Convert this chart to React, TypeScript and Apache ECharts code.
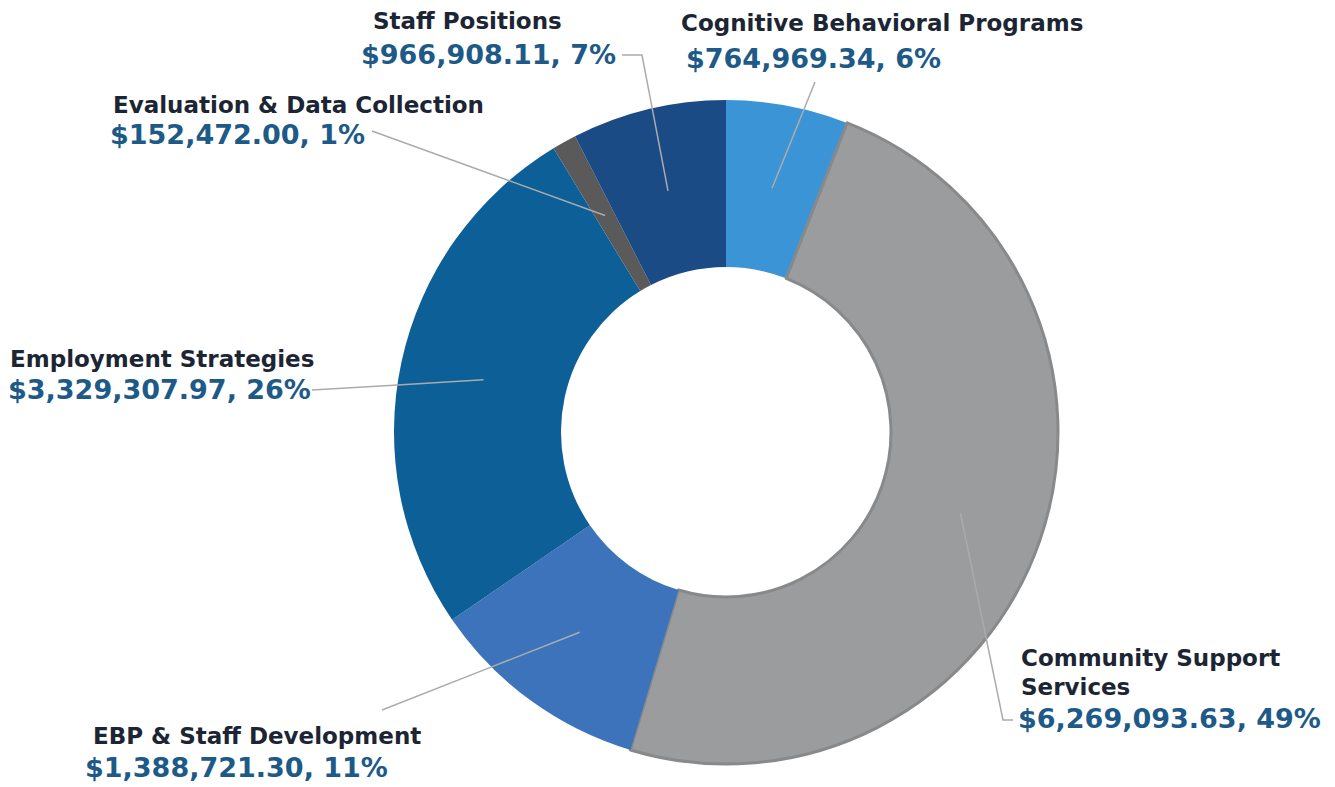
import React, { useEffect, useRef } from "react";
import * as echarts from "echarts";

const categories = [
  "Cognitive Behavioral Programs",
  "Community Support Services",
  "EBP & Staff Development",
  "Employment Strategies",
  "Evaluation & Data Collection",
  "Staff Positions",
];
const displayNames = [
  "Cognitive Behavioral Programs",
  "Community Support\nServices",
  "EBP & Staff Development",
  "Employment Strategies",
  "Evaluation & Data Collection",
  "Staff Positions",
];
const values = [764969.34, 6269093.63, 1388721.3, 3329307.97, 152472.0, 966908.11];
const percents = [6, 49, 11, 26, 1, 7];
const colors = ["#3b94d6", "#9a9c9e", "#3c73ba", "#0c5f97", "#5a5a5a", "#1b4b85"];

// layout (not data)
const CENTER = [726, 432];
const RADIUS = [165, 332];
const ANCHOR_R = 248;
const labelLayouts = [
  { x: 681, y: 8, nameIndent: 0, valueIndent: 5, valueLH: 42, line: [[815, 82]] },
  { x: 1018, y: 643, nameIndent: 3, valueIndent: 0, valueLH: 34, line: [[1003, 720], [1013, 720]] },
  { x: 85, y: 721, nameIndent: 8, valueIndent: 0, valueLH: 34, line: [[382, 710]] },
  { x: 8, y: 344, nameIndent: 2, valueIndent: 0, valueLH: 32, line: [[312, 390]] },
  { x: 110, y: 90, nameIndent: 3, valueIndent: 0, valueLH: 30, line: [[372, 131]] },
  { x: 361, y: 6, nameIndent: 12, valueIndent: 0, valueLH: 38, line: [[642, 55], [622, 55]] },
];

const FONT = "'DejaVu Sans', sans-serif";

function fmtMoney(v: number) {
  return "$" + v.toLocaleString("en-US", { minimumFractionDigits: 2, maximumFractionDigits: 2 });
}

export default function App() {
  const ref = useRef<HTMLDivElement>(null);
  useEffect(() => {
    if (!ref.current) return;
    const chart = echarts.init(ref.current, undefined, { renderer: "svg" });
    const total = values.reduce((a, b) => a + b, 0);
    const midAngles: number[] = [];
    let acc = 0;
    values.forEach((v) => {
      const a = (v / total) * 360;
      midAngles.push(acc + a / 2);
      acc += a;
    });

    const sliceData = categories.map((name, i) => ({
      name,
      value: values[i],
      itemStyle:
        i === 1
          ? { color: colors[i], borderColor: "#88898b", borderWidth: 3 }
          : { color: colors[i], borderWidth: 0 },
    }));

    const labelData = categories.map((name, i) => {
      const L = labelLayouts[i];
      return {
        name,
        value: values[i],
        itemStyle: { color: "rgba(0,0,0,0)", borderWidth: 0 },
        label: {
          formatter: `{n|${displayNames[i].split("\n").join("}\n{n|")}}\n{v|${fmtMoney(values[i])}, ${percents[i]}%}`,
          rich: {
            n: {
              fontFamily: FONT,
              fontWeight: "bold",
              fontSize: 23,
              color: "#1c2533",
              lineHeight: 29,
              padding: [0, 0, 0, L.nameIndent],
            },
            v: {
              fontFamily: FONT,
              fontWeight: "bold",
              fontSize: 27,
              color: "#1d5a87",
              lineHeight: L.valueLH,
              padding: [0, 0, 0, L.valueIndent],
            },
          },
        },
      };
    });

    chart.setOption({
      animation: false,
      backgroundColor: "#ffffff",
      series: [
        {
          type: "pie",
          z: 2,
          center: CENTER,
          radius: RADIUS,
          startAngle: 90,
          clockwise: true,
          silent: true,
          data: sliceData,
          label: { show: false },
          labelLine: { show: false },
        },
        {
          type: "pie",
          z: 5,
          center: CENTER,
          radius: RADIUS,
          startAngle: 90,
          clockwise: true,
          avoidLabelOverlap: false,
          silent: true,
          data: labelData,
          label: { show: true, position: "outside" },
          labelLine: { show: true, lineStyle: { color: "#ababab", width: 1.5 } },
          labelLayout: (params: any) => {
            const i = params.dataIndex;
            const L = labelLayouts[i];
            const rad = (midAngles[i] * Math.PI) / 180;
            const start = [CENTER[0] + ANCHOR_R * Math.sin(rad), CENTER[1] - ANCHOR_R * Math.cos(rad)];
            let pts: number[][];
            if (L.line.length === 1) {
              const e = L.line[0];
              pts = [start, [(start[0] + e[0]) / 2, (start[1] + e[1]) / 2], e];
            } else {
              pts = [start, L.line[0], L.line[1]];
            }
            return {
              x: L.x,
              y: L.y,
              align: "left",
              verticalAlign: "top",
              labelLinePoints: pts,
            };
          },
        },
      ],
    });
    return () => chart.dispose();
  }, []);
  return (
    <div
      ref={ref}
      style={{ position: "absolute", left: 0, top: 0, width: 1335, height: 787 }}
    />
  );
}
